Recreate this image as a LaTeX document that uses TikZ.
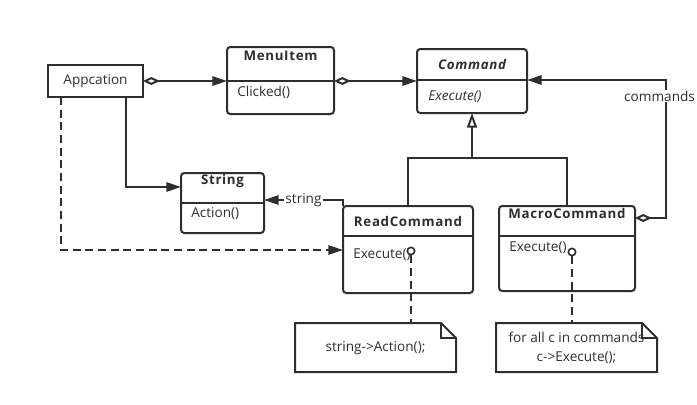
\documentclass[tikz,border=0pt]{standalone}
\usepackage{fontspec}
\setmainfont{Open Sans}
\newfontfamily\titlefont[LetterSpace=5,BoldFont={Open Sans Bold},BoldItalicFont={Open Sans Bold Italic}]{Open Sans}
\usetikzlibrary{arrows.meta,calc}
\definecolor{ink}{HTML}{2E2E2E}
\begin{document}
\begin{tikzpicture}[x=0.75pt,y=-0.75pt,
  every node/.style={font=\fontsize{10.2pt}{12pt}\selectfont, text=ink},
  cls/.style={draw=ink, line width=1.5pt, rounded corners=2.5pt, inner sep=0pt, outer sep=0pt, anchor=north west},
  plainbox/.style={draw=ink, line width=1.5pt, inner sep=0pt, outer sep=0pt, anchor=north west},
  title/.style={font=\titlefont\bfseries\fontsize{10pt}{12pt}\selectfont, inner sep=0pt},
  meth/.style={anchor=west, inner sep=0pt},
  wire/.style={draw=ink, line width=1.5pt},
  assoc/.style={wire, -{Triangle[length=11pt,width=7pt]}},
  agg/.style={wire, {Diamond[open,length=12.5pt,width=6pt]}-{Triangle[length=11pt,width=7pt]}},
  inh/.style={wire, -{Triangle[open,length=11pt,width=7.5pt]}},
  dep/.style={wire, dash pattern=on 6pt off 3.5pt, -{Triangle[length=11pt,width=7pt]}},
  notelink/.style={wire, dash pattern=on 6pt off 3.5pt},
  pin/.style={draw=ink, line width=1.2pt, fill=white, circle, inner sep=0pt, minimum size=5.5pt},
  lbl/.style={fill=white, inner sep=1pt}
]
\useasboundingbox (0,0) rectangle (697,404);

% classes
\node[plainbox, minimum width=71.25pt, minimum height=24pt] (app) at (48,65) {};
\node[inner sep=0pt] (apptxt) at (95.5,81) {Appcation};

\node[cls, minimum width=80.25pt, minimum height=50.25pt] (menu) at (227,47) {};
\draw[wire] (menu.west |- 0,81) -- (menu.east |- 0,81);
\node[title] (menut) at (280.5,56) {MenuItem};
\node[meth] (menum) at (237,92) {Clicked()};

\node[cls, minimum width=82.5pt, minimum height=48pt] (cmd) at (417,49) {};
\draw[wire] (cmd.west |- 0,80) -- (cmd.east |- 0,80);
\node[title, font=\titlefont\bfseries\itshape\fontsize{10pt}{12pt}\selectfont] (cmdt) at (472,64) {Command};
\node[meth, font=\itshape\fontsize{10.2pt}{12pt}\selectfont] (cmdm) at (428,97) {Execute()};

\node[cls, minimum width=62.25pt, minimum height=45pt] (str) at (181,173) {};
\draw[wire] (str.west |- 0,203) -- (str.east |- 0,203);
\node[title] (strt) at (222.5,181.5) {String};
\node[meth] (strm) at (191,214) {Action()};

\node[cls, minimum width=97.5pt, minimum height=65.25pt] (rc) at (343,206) {};
\draw[wire] (rc.west |- 0,236) -- (rc.east |- 0,236);
\node[title] (rct) at (408,221.5) {ReadCommand};
\node[meth] (rcm) at (353,255) {Execute()};

\node[cls, minimum width=102pt, minimum height=63.75pt] (mc) at (499,206) {};
\draw[wire] (mc.west |- 0,236) -- (mc.east |- 0,236);
\node[title] (mct) at (567,213.5) {MacroCommand};
\node[meth] (mcm) at (509,247.5) {Execute()};

% notes
\draw[wire] (295,323) -- (441,323) -- (456,338) -- (456,372) -- (295,372) -- cycle;
\draw[wire] (441,323) -- (441,338) -- (456,338);
\coordinate (n1top) at (411,323);
\node[inner sep=0pt] (n1) at (375.5,348) {string->Action();};

\draw[wire] (496,323) -- (642,323) -- (657,338) -- (657,372) -- (496,372) -- cycle;
\draw[wire] (642,323) -- (642,338) -- (657,338);
\coordinate (n2top) at (572,323);
\node[inner sep=0pt, align=center, font=\fontsize{10.2pt}{14pt}\selectfont] (n2) at (576.5,348) {for all c in commands\\c->Execute();};

% connectors
\draw[agg] (app.east) -- (app.east -| menu.west);
\draw[agg] (menu.east |- 0,81) -- (cmd.west |- 0,81);
\draw[assoc] (app.south -| 126,0) |- (str.west |- 0,187);
\draw[dep] (app.south -| 61,0) |- (rc.west |- 0,250);
\draw[assoc] (rc.north west) |- (str.east |- 0,200) node[lbl, pos=0.75] (strl) {string};
\draw[wire] (rc.north) |- (mc.north |- 0,158) -- (mc.north);
\draw[inh] (cmd.south |- 0,158) -- (cmd.south);
\draw[agg] (mc.east |- 0,218) -| (666,150) |- (cmd.east |- 0,80);
\node[lbl, anchor=east, inner sep=0.6pt] (cmdl) at (696,96) {commands};

% note links
\node[pin] (p1) at (411,251) {};
\node[pin] (p2) at (572,252) {};
\draw[notelink] (p1.south) -- (n1top);
\draw[notelink] (p2.south) -- (n2top);
\end{tikzpicture}
\end{document}
